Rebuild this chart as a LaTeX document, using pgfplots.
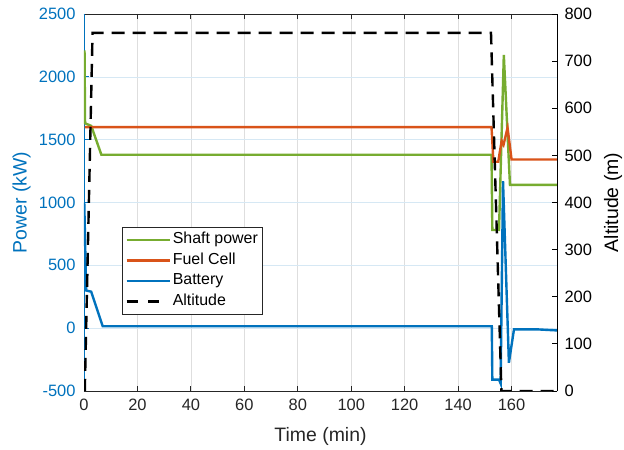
\documentclass[border=0pt]{standalone}
\usepackage{pgfplots}
\pgfplotsset{compat=1.18}
\usepackage{fontspec}
\setmainfont{Liberation Sans}
\definecolor{mgreen}{rgb}{0.466,0.674,0.188}
\definecolor{mred}{rgb}{0.85,0.325,0.098}
\definecolor{mblue}{rgb}{0,0.447,0.741}
\definecolor{mgray}{rgb}{0.15,0.15,0.15}
\pgfplotsset{altlegend/.style={legend image code/.code={\draw[##1, dash pattern=on 11bp off 10.5bp] (0bp,0bp) -- (35bp,0bp); \path (43bp,0bp);}}}
\begin{document}
\begin{tikzpicture}
\useasboundingbox (-84bp,-59bp) rectangle (540bp,391bp);
\pgfplotsset{
  every axis/.append style={
    scale only axis, width=473bp, height=377bp, at={(0,0)}, anchor=south west,
    xmin=0, xmax=177,
    tick align=inside, major tick length=5bp,
    tick label style={font=\fontsize{16.5}{19}\selectfont},
    label style={font=\fontsize{19.5}{23}\selectfont},
    /pgf/number format/assume math mode=true,
    /pgf/number format/1000 sep={},
  }
}
\begin{axis}[
  ymin=-500, ymax=2500, ytick={-500,0,...,2500},
  xtick={0,20,...,160},
  xtick pos=both, xticklabel pos=lower,
  ytick pos=left,
  separate axis lines,
  x axis line style={mgray, line width=0.8bp},
  y axis line style={mblue, line width=0.8bp},
  xtick style={mgray, line width=0.8bp},
  ytick style={mblue, line width=0.8bp},
  yticklabel style={color=mblue, xshift=-5bp},
  xticklabel style={color=mgray, yshift=-5bp},
  xlabel={Time (min)}, ylabel={Power (kW)},
  xlabel style={at={(axis description cs:0.5,-0.1194)}, anchor=center, color=mgray, font=\fontsize{19.5}{23}\selectfont},
  ylabel style={at={(axis description cs:-0.1317,0.5)}, rotate=0, anchor=center, color=mblue, font=\fontsize{19.5}{23}\selectfont},
  grid=major,
  major x grid style={color=black!13, line width=0.6bp},
  major y grid style={color=mblue!16, line width=0.6bp},
]
\addplot[mgreen, line width=2.4bp] coordinates {
(0.2,2210) (0.4,1630) (2.7,1610) (6.5,1380) (152.5,1380) (152.8,781) (155.3,781) (157.1,2174) (159.4,1140) (177,1140)
};
\addplot[mred, line width=2.4bp] coordinates {
(0.2,1600) (152.5,1600) (153.2,1324) (155.0,1324) (156.3,1490) (157.0,1460) (158.5,1595) (160.0,1342) (177,1342)
};
\addplot[mblue, line width=2.4bp] coordinates {
(0.1,1000) (0.8,300) (2.7,290) (7,15) (152.6,15) (152.8,-410) (155.3,-410) (155.9,-440) (156.8,1170) (159,-275) (160.9,-10) (170,-10) (177,-18)
};
\end{axis}
\begin{axis}[
  ymin=0, ymax=800, ytick={0,100,...,800},
  axis y line*=right, axis x line=none,
  y axis line style={black, line width=0.8bp},
  ytick style={black, line width=0.8bp},
  yticklabel style={color=black, xshift=4bp},
  ylabel={Altitude (m)},
  ylabel style={at={(axis description cs:1.1184,0.5)}, anchor=center, color=black, font=\fontsize{19.5}{23}\selectfont},
  legend cell align=left,
  legend image code/.code={\draw[#1] (0bp,0bp) -- (43bp,0bp);},
  legend style={at={(axis description cs:0.0803,0.4350)}, anchor=north west,
    font=\fontsize{16}{19}\selectfont, draw=mgray, line width=0.8bp, fill=white,
    inner xsep=3bp, inner ysep=3bp, row sep=1.5bp,
    nodes={text height=11.5bp, text depth=3.5bp, inner sep=2bp}},
]
\addlegendimage{mgreen, line width=2.4bp}
\addlegendentry{Shaft power\hspace{8bp}}
\addlegendimage{mred, line width=2.4bp}
\addlegendentry{Fuel Cell}
\addlegendimage{mblue, line width=2.4bp}
\addlegendentry{Battery}
\addplot[black, line width=2.4bp, dash pattern=on 13bp off 8bp, altlegend] coordinates {
(0,0) (0.3,0) (3.2,760) (152.3,760) (156.2,0) (177,0)
};
\addlegendentry{Altitude}
\end{axis}
\end{tikzpicture}
\end{document}
